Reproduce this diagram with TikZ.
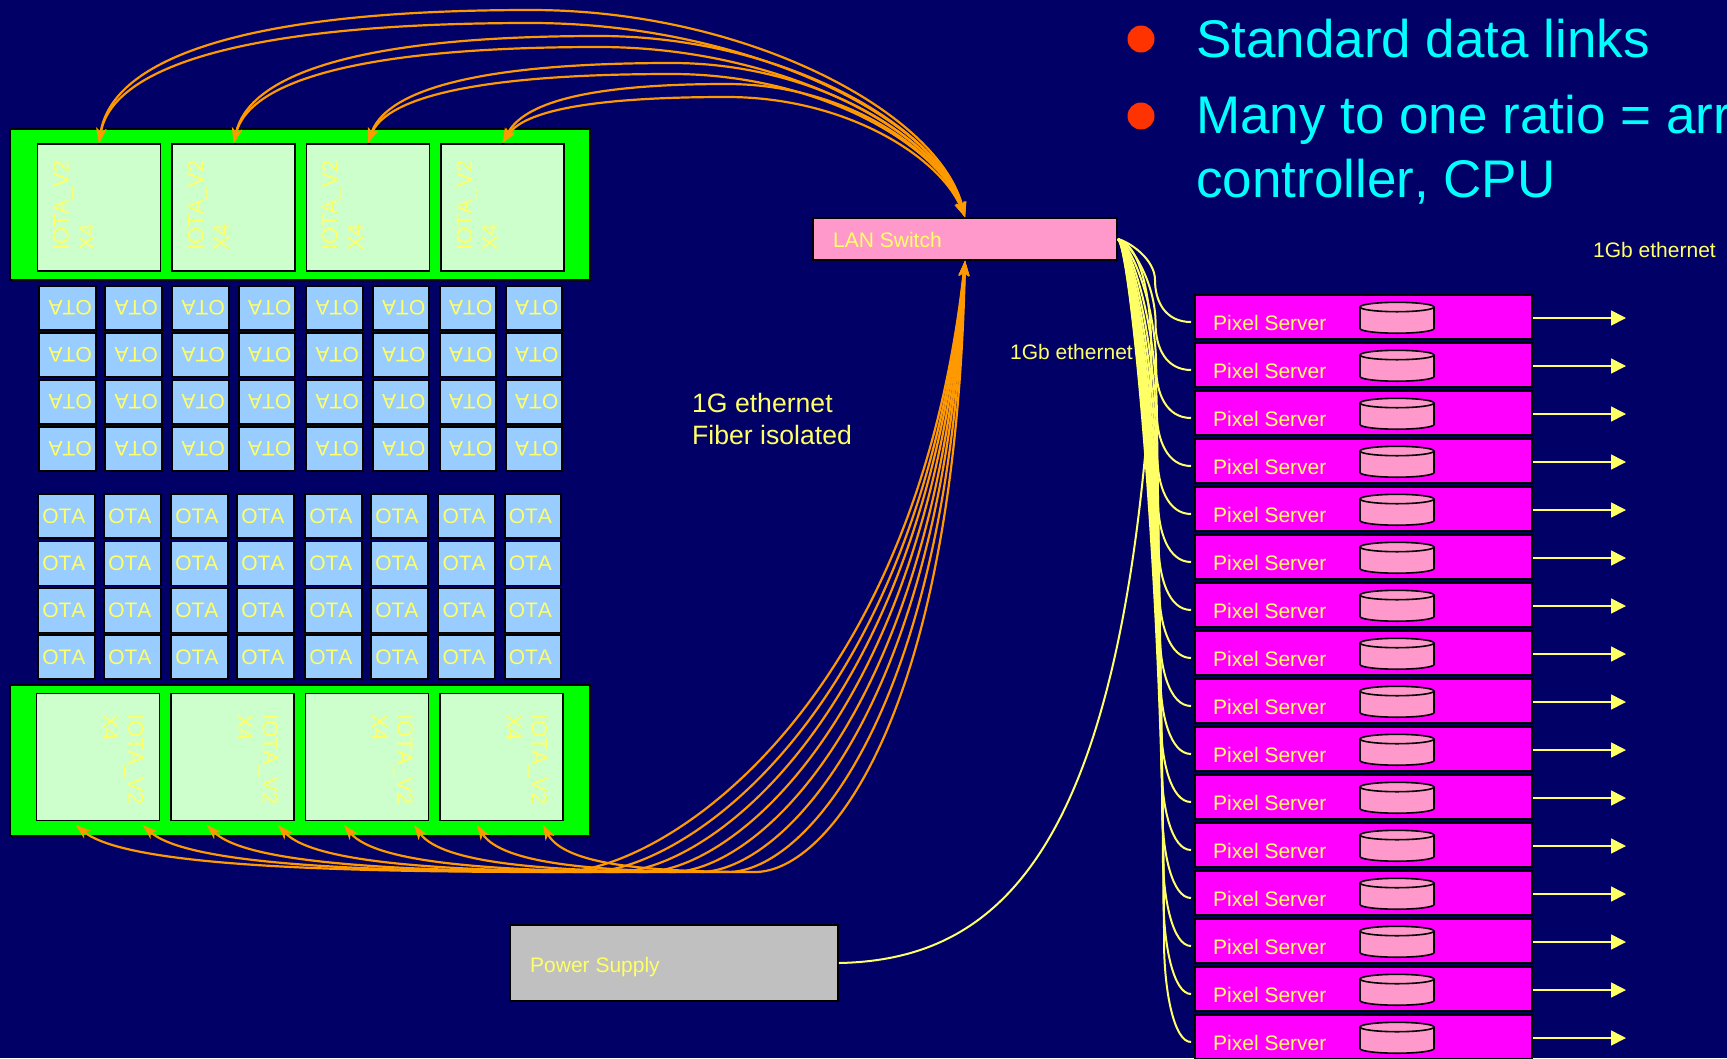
\documentclass[tikz,border=0pt]{standalone}
\usepackage{xcolor}
\usepackage{fontspec}
\setmainfont[Kerning=Off]{Liberation Sans}
\usetikzlibrary{arrows.meta, calc}
\definecolor{PANavy}{RGB}{0,0,102}
\definecolor{PAYellow}{RGB}{255,255,102}
\definecolor{PAOrange}{RGB}{255,153,0}
\definecolor{PABlue}{RGB}{153,204,255}
\definecolor{PAMint}{RGB}{204,255,204}
\definecolor{PAGreen}{RGB}{0,255,0}
\definecolor{PAPink}{RGB}{255,153,204}
\definecolor{PAMagenta}{RGB}{255,0,255}
\definecolor{PAGray}{RGB}{192,192,192}
\definecolor{PACyan}{RGB}{0,255,255}
\definecolor{PARed}{RGB}{255,51,0}

\begin{document}
\begin{tikzpicture}[
          x=1pt, y=-1pt,
          every node/.style={font=\fontsize{21}{25}\selectfont, text=PAYellow},
          box/.style={rectangle, draw=black, line width=1.6pt, inner sep=0pt},
          rack/.style={box, fill=PAGreen, minimum width=580pt, minimum height=151pt},
          iota/.style={box, fill=PAMint, minimum width=123pt, minimum height=127pt},
          iotatxt/.style={inner sep=0pt, align=left, anchor=north west, font=\fontsize{22}{25.5}\selectfont},
          ota/.style={box, fill=PABlue, minimum height=44pt, text width=48.5pt,
                      inner xsep=4pt, align=left},
          server/.style={box, fill=PAMagenta, minimum width=337pt, minimum height=44pt},
          disk/.style={draw=black, line width=1.6pt, fill=PAPink},
          orarr/.style={{Stealth[length=15pt,width=10pt,inset=4pt]}-{Stealth[length=15pt,width=10pt,inset=4pt]},
                        PAOrange, line width=2.2pt},
          yelarr/.style={-{Triangle[length=15pt,width=15pt]}, PAYellow, line width=1.7pt},
          yel/.style={PAYellow, line width=2pt},
          bigtxt/.style={anchor=base west, inner sep=0pt, text=PACyan, font=\fontsize{53}{64}\selectfont}
        ]
        \useasboundingbox (0,0) rectangle (1727,1058);
        \clip (0,0) rectangle (1727,1058);
        \fill[PANavy] (0,0) rectangle (1727,1058);

        % Racks with IOTA modules
        \node[rack] (toprack) at (300,204.5) {};
        \node[rack] (botrack) at (300,760.5) {};
        \foreach \i/\x in {1/99, 2/233.7, 3/368, 4/502.5} {
          \node[iota] (topm\i) at (\x,207.5) {};
          \node[iotatxt, rotate=90] (topl\i) at (\x-46,251) {IOTA\_V2\\X4};
        }
        \foreach \i/\x in {1/98, 2/232.5, 3/367, 4/501.5} {
          \node[iota] (botm\i) at (\x,757) {};
          \node[iotatxt, rotate=-90] (botl\i) at (\x+46,714) {IOTA\_V2\\X4};
        }

        % OTA cells, upper block is upside down
        \foreach \i/\x in {1/67.5, 2/133.5, 3/200.5, 4/267, 5/334.5, 6/401, 7/468, 8/534} {
          \foreach \j/\y in {1/308, 2/355, 3/402, 4/449} {
            \node[ota, rotate=180] (ua\i\j) at (\x,\y) {OTA};
          }
        }
        \foreach \i/\x in {1/66.5, 2/132.5, 3/199.5, 4/265.5, 5/333.5, 6/399.5, 7/466.8, 8/533} {
          \foreach \j/\y in {1/516, 2/563.5, 3/610.5, 4/657} {
            \node[ota] (la\i\j) at (\x,\y) {OTA};
          }
        }

        % Switch and power
        \node[box, fill=PAPink, minimum width=304pt, minimum height=42pt] (lan) at (965,239) {};
        \node[anchor=west, inner sep=0pt] (lantxt) at (833,240) {LAN Switch};
        \node[box, fill=PAGray, minimum width=328pt, minimum height=76pt] (psu) at (674,963) {};
        \node[anchor=west, inner sep=0pt] (psutxt) at (530,967) {Power Supply};

        % Pixel servers
        \foreach \n in {0,...,15} {
          \pgfmathsetmacro{\yd}{307+48*\n}
          \node[server] (srv\n) at (1363.5,317+48*\n) {};
          \node[anchor=west, inner sep=0pt] (srvtxt\n) at (1213,323+48*\n) {Pixel Server};
          \draw[disk] (1360,\yd) -- (1360,\yd+21.5) arc (180:360:37pt and 4.7pt)
                -- (1434,\yd) arc (0:180:37pt and 4.7pt) -- cycle;
          \draw[disk, fill=none] (1360,\yd) arc (180:360:37pt and 4.7pt);
          \coordinate (out\n) at (1626,318+48*\n);
          \draw[yelarr] (srv\n.east |- out\n) -- (out\n);
          \coordinate (in\n) at (1191,322+48*\n);
        }

        % Switch to servers
        \foreach \n in {0,...,15} {
          \pgfmathsetmacro{\ye}{322+48*\n}
          \pgfmathsetmacro{\dl}{42+4*\n}
          \pgfmathsetmacro{\xm}{1155+0.6*\n}
          \pgfmathsetmacro{\ym}{\ye-\dl}
          \pgfmathsetmacro{\yc}{239+0.5*(\ym-239)}
          \draw[yel] (lan.east) .. controls (1130,242) and (\xm,\yc) .. (\xm,\ym)
                .. controls (\xm,\ym+0.5*\dl) and (\xm+10,\ye) .. (in\n);
        }
        % Power to switch
        \coordinate (psuvia) at (1149,410);
        \draw[yel] (psu.east) .. controls (1000,960) and (1115,850) .. (psuvia)
              .. controls (1158,300) and (1140,245) .. (lan.east);

        % Switch to top modules
        \foreach \i/\ax/\ay in {1/531/10, 1/531/23, 2/599/36, 2/599/47,
                                3/672/63, 3/672/74, 4/727/84, 4/727/97} {
          \pgfmathsetmacro{\len}{\ax-100-134.3*(\i-1)}
          \pgfmathsetmacro{\cl}{\ax-0.7*\len}
          \pgfmathsetmacro{\cr}{0.5*(\ax+965)}
          \draw[orarr] (topm\i.north) .. controls ($(topm\i.north)+({25-0.03*\len},{-0.6*(143-\ay)})$) and (\cl,\ay) .. (\ax,\ay)
                .. controls (\cr,\ay) and (940,{\ay+0.5*(217-\ay)}) .. (lan.north);
        }

        % Switch to bottom modules
        \foreach \i/\xa/\xb/\ca/\cb in {1/75.7/560/662/915, 2/142.6/588/686/921, 3/206.8/616/710/926, 4/278/644/734/932,
                                5/344/672/758/938, 6/414/700/782/943, 7/477/728/806/949, 8/543/755/830/955} {
          \coordinate (bp\i) at (\xa,825);
          \pgfmathsetmacro{\cd}{\xa+0.1*(\xb-\xa)}
          \pgfmathsetmacro{\ce}{\xa+0.5*(\xb-\xa)}
          \draw[orarr] (bp\i) .. controls (\cd,865) and (\ce,872) .. (\xb,872)
                .. controls (\ca,872) and (\cb,710) .. (lan.south);
        }

        % Labels
        \node[anchor=west, inner sep=0pt] (lbl1) at (1010,352) {1Gb ethernet};
        \node[anchor=west, inner sep=0pt] (lbl2) at (1593,250) {1Gb ethernet};
        \node[anchor=north west, inner sep=0pt, align=left,
              font=\fontsize{26.6}{32}\selectfont] (lbl3) at (692,393) {1G ethernet\\Fiber isolated};

        % Bullets
        \fill[PARed] (1141,39) circle (13.5pt);
        \fill[PARed] (1141,116) circle (13.5pt);
        \node[bigtxt] (bul1) at (1196,57) {Standard data links};
        \node[bigtxt] (bul2) at (1196,133) {Many to one ratio = arr};
        \node[bigtxt] (bul3) at (1196,197) {controller, CPU};
      \end{tikzpicture}
\end{document}
